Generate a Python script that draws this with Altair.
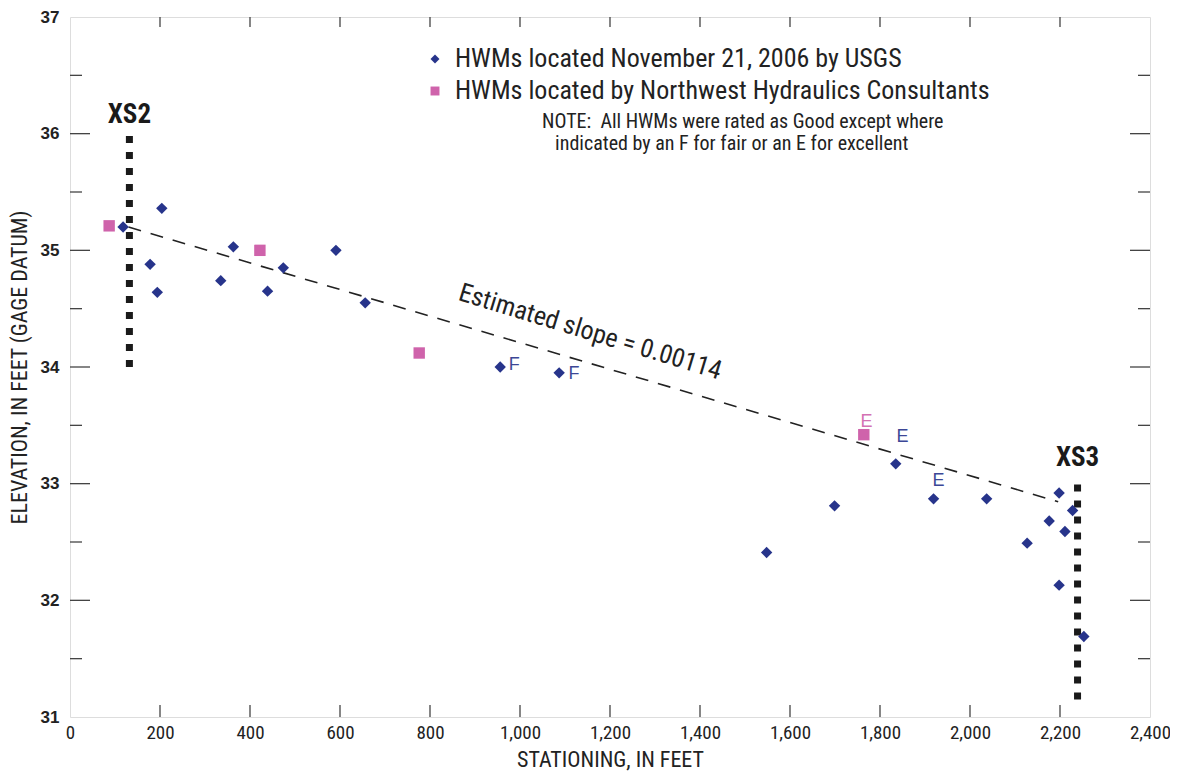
import altair as alt
import pandas as pd

# ---- data ----
usgs_x = [118, 204, 178, 194, 335, 363, 439, 474, 591, 656, 956, 1087,
          1548, 1699, 1835, 1919, 2037, 2127, 2176, 2198, 2211, 2228, 2198, 2253]
usgs_y = [35.20, 35.36, 34.88, 34.64, 34.74, 35.03, 34.65, 34.85, 35.00, 34.55, 34.00, 33.95,
          32.41, 32.81, 33.17, 32.87, 32.87, 32.49, 32.68, 32.92, 32.59, 32.77, 32.13, 31.69]
nhc_x = [87, 422, 776, 1764]
nhc_y = [35.21, 35.00, 34.12, 33.42]

series_usgs = "HWMs located November 21, 2006 by USGS"
series_nhc = "HWMs located by Northwest Hydraulics Consultants"

# rating labels (F = fair, E = excellent)
rate_text = ["F", "F", "E", "E", "E"]
rate_x = [987, 1120, 1770, 1850, 1930]
rate_y = [34.02, 33.94, 33.53, 33.40, 33.02]
rate_series = [series_usgs, series_usgs, series_nhc, series_usgs, series_usgs]

# estimated slope line (endpoints)
trend_x = [130, 2196]
trend_y = [35.20, 32.845]

# cross sections
xs_name = ["XS2", "XS3"]
xs_x = [132, 2239]
xs_y0 = [34.0, 31.15]
xs_y1 = [36.0, 33.0]
xs_label_y = [36.16, 33.22]

note_text = ["NOTE:\u00a0\u00a0All HWMs were rated as Good except where",
             "indicated by an F for fair or an E for excellent"]
note_x = [1049, 1078]
note_y = [36.10, 35.91]

x_ticks = list(range(0, 2401, 200))
y_major = [31, 32, 33, 34, 35, 36, 37]
y_minor = [31.5, 32.5, 33.5, 34.5, 35.5, 36.5]

BLUE = "#27348b"
PINK = "#cf63ab"
NARROW = "Liberation Sans Narrow, Arial Narrow, Roboto Condensed, Liberation Sans, sans-serif"
W, H = 1080, 700

pts = pd.DataFrame({
    "x": usgs_x + nhc_x,
    "y": usgs_y + nhc_y,
    "series": [series_usgs] * len(usgs_x) + [series_nhc] * len(nhc_x),
})

xscale = alt.Scale(domain=[0, 2400], nice=False, zero=False)
yscale = alt.Scale(domain=[31, 37], nice=False, zero=False)

xaxis = alt.Axis(values=x_ticks, format=",.0f", ticks=False, domain=False, grid=False,
                 labelFont=NARROW, labelFontSize=19, labelColor="#222", labelPadding=6,
                 title="STATIONING, IN FEET", titleFont=NARROW, titleFontSize=22,
                 titleFontWeight="normal", titleColor="#222", titlePadding=7,
                 labelFlush=False)
yaxis = alt.Axis(values=y_major, format="d", ticks=False, domain=False, grid=False,
                 labelFont="Liberation Sans, Arial, sans-serif", labelFontSize=17,
                 labelFontWeight="bold", labelColor="#222", labelPadding=11,
                 title="ELEVATION, IN FEET (GAGE DATUM)", titleFont=NARROW, titleFontSize=22,
                 titleFontWeight="normal", titleColor="#222", titlePadding=9,
                 labelFlush=False)

X = alt.X("x:Q", scale=xscale, axis=xaxis)
Y = alt.Y("y:Q", scale=yscale, axis=yaxis)

# ---- tick marks (inward, both sides) ----
ymaj = pd.DataFrame({"y": y_major[1:-1]})
ymin = pd.DataFrame({"y": y_minor})
xt = pd.DataFrame({"x": x_ticks[1:-1]})
tick_color = "#444"

def yticks(df, length):
    left = alt.Chart(df).mark_rule(color=tick_color, strokeWidth=1.3).encode(
        y=Y, x=alt.value(0), x2=alt.value(length))
    right = alt.Chart(df).mark_rule(color=tick_color, strokeWidth=1.3).encode(
        y=Y, x=alt.value(W - length), x2=alt.value(W))
    return [left, right]

xt_bottom = alt.Chart(xt).mark_rule(color=tick_color, strokeWidth=1.3).encode(
    x=X, y=alt.value(H - 12), y2=alt.value(H))
xt_top = alt.Chart(xt).mark_rule(color=tick_color, strokeWidth=1.3).encode(
    x=X, y=alt.value(0), y2=alt.value(10))

# ---- trend line ----
trend = alt.Chart(pd.DataFrame({"x": trend_x, "y": trend_y})).mark_line(
    color="#222", strokeWidth=1.6, strokeDash=[13, 10]).encode(x=X, y=Y)

slope_label = alt.Chart(pd.DataFrame({"x": [1156], "y": [34.30],
                                      "t": ["Estimated slope = 0.00114"]})).mark_text(
    font=NARROW, fontSize=26, angle=17, color="#222").encode(x=X, y=Y, text="t:N")

# ---- cross sections ----
xs_df = pd.DataFrame({"name": xs_name, "x": xs_x, "y": xs_y0, "y2": xs_y1, "ly": xs_label_y})
xs_rule = alt.Chart(xs_df).mark_rule(color="#1a1a1a", strokeWidth=7, strokeDash=[7, 9],
                                      strokeCap="butt").encode(x=X, y=Y, y2="y2:Q")
xs_text = alt.Chart(xs_df).mark_text(font=NARROW, fontSize=27, fontWeight="bold",
                                      color="#1a1a1a").encode(
    x=X, y=alt.Y("ly:Q", scale=yscale, axis=yaxis), text="name:N")

# ---- points ----
color_scale = alt.Scale(domain=[series_usgs, series_nhc], range=[BLUE, PINK])
shape_scale = alt.Scale(domain=[series_usgs, series_nhc], range=["diamond", "square"])
legend = alt.Legend(title=None, orient="none", legendX=352, legendY=29,
                    labelFont=NARROW, labelFontSize=26, labelColor="#222",
                    symbolSize=80, symbolStrokeWidth=0, rowPadding=6, labelLimit=1000,
                    labelOffset=7)
points = alt.Chart(pts).mark_point(filled=True, opacity=1, size=130).encode(
    x=X, y=Y,
    color=alt.Color("series:N", scale=color_scale, legend=legend),
    shape=alt.Shape("series:N", scale=shape_scale, legend=legend),
)

rate_df = pd.DataFrame({"x": rate_x, "y": rate_y, "t": rate_text, "series": rate_series})
rate_label = alt.Chart(rate_df).mark_text(font="Liberation Sans, sans-serif", fontSize=18,
                                           opacity=0.9).encode(
    x=X, y=Y, text="t:N",
    color=alt.Color("series:N", scale=color_scale, legend=None))

note_df = pd.DataFrame({"x": note_x, "y": note_y, "t": note_text})
note = alt.Chart(note_df).mark_text(font=NARROW, fontSize=20, align="left",
                                     color="#222").encode(x=X, y=Y, text="t:N")

chart = alt.layer(
    *yticks(ymaj, 20), *yticks(ymin, 12), xt_bottom, xt_top,
    trend, slope_label, xs_rule, xs_text, points, rate_label, note,
).properties(
    width=W, height=H,
    autosize=alt.AutoSizeParams(type="none"),
    padding={"left": 62, "top": 9, "right": 20, "bottom": 56},
).configure_view(stroke="#555", strokeWidth=2).configure(background="white")

chart.save("out.html", embed_options={"renderer": "svg", "actions": False})
